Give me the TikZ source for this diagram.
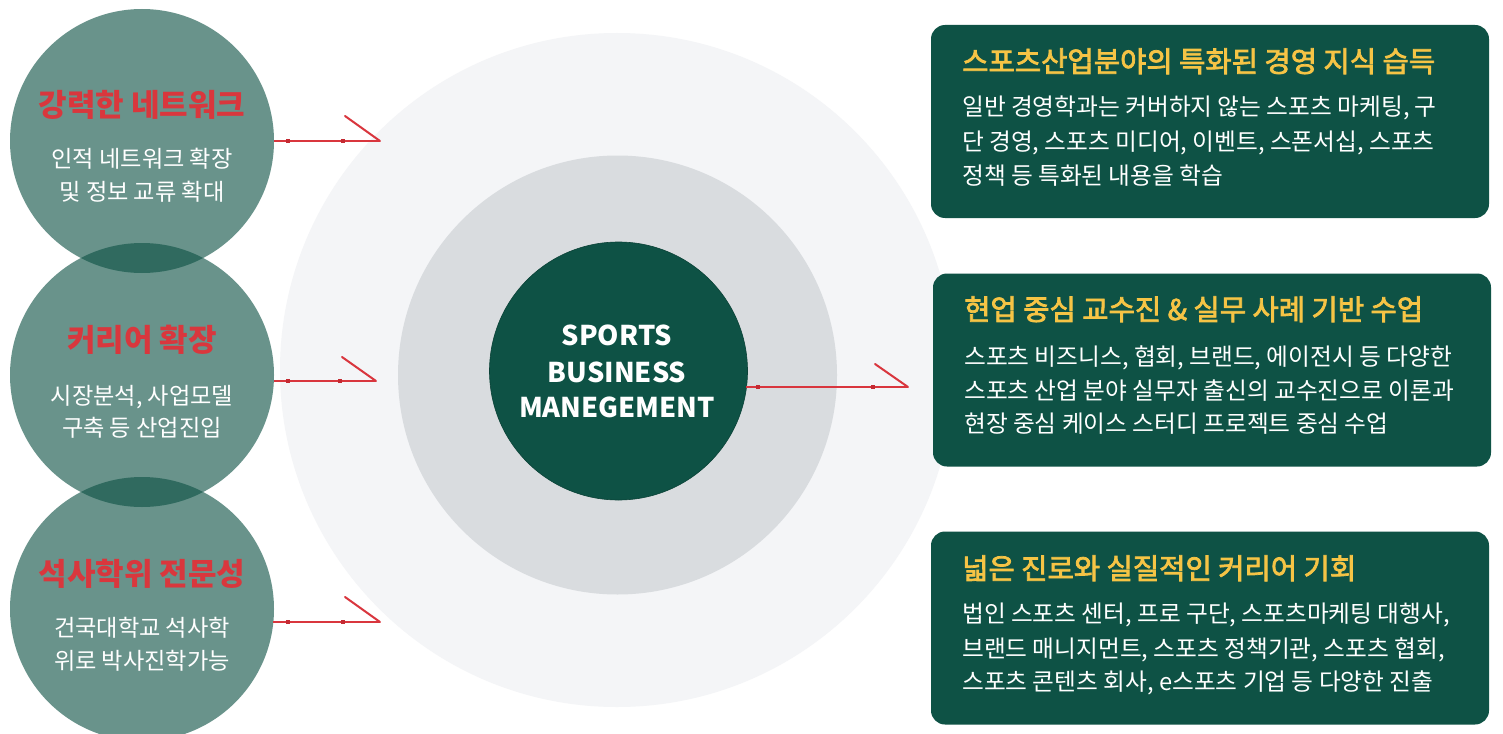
\documentclass[tikz,border=0pt]{standalone}
\usepackage{fontspec}
\setmainfont{Noto Sans CJK KR}
\newfontfamily\krmedium[FakeBold=2.6]{Noto Sans CJK KR}
\definecolor{dkgreen}{HTML}{0E5245}
\definecolor{ringout}{HTML}{F4F5F7}
\definecolor{ringmid}{HTML}{D9DCDF}
\definecolor{arrowred}{HTML}{D9363E}
\definecolor{handlered}{HTML}{C42A32}
\definecolor{titleyel}{HTML}{F6C445}
\definecolor{circred}{HTML}{D9373D}
\begin{document}
\begin{tikzpicture}[x=1pt,y=-1pt,
  lcirc/.style={circle,fill=dkgreen,fill opacity=0.62,minimum size=264pt,inner sep=0pt},
  ring/.style={circle,inner sep=0pt},
  core/.style={circle,fill=dkgreen,draw=dkgreen!80!black,line width=0.6pt,minimum size=258pt,inner sep=0pt},
  infobox/.style={rectangle,rounded corners=14pt,fill=dkgreen,minimum width=558pt,minimum height=193pt,inner sep=0pt},
  ctitle/.style={anchor=base,inner sep=0pt,text=circred,font=\fontsize{31}{36}\selectfont\bfseries},
  cbody/.style={anchor=base,inner sep=0pt,text=white,font=\fontsize{23.2}{30}\selectfont},
  btitle/.style={anchor=base west,inner sep=0pt,text=titleyel,font=\krmedium\fontsize{28.6}{34}\selectfont},
  bbody/.style={anchor=base west,inner sep=0pt,text=white,font=\fontsize{23.7}{30}\selectfont},
  coretext/.style={anchor=base,inner sep=0pt,text=white,font=\fontsize{27.2}{30}\selectfont\bfseries},
  redline/.style={draw=arrowred,line width=2pt},
  handle/.style={rectangle,fill=handlered,minimum width=4pt,minimum height=3.5pt,inner sep=0pt}
]
\useasboundingbox (0,0) rectangle (1503,733);
\clip (0,0) rectangle (1503,733);
\fill[white] (0,0) rectangle (1503,733);

% concentric rings
\node[ring,fill=ringout,minimum size=674pt] (outer) at (617,370) {};
\node[ring,fill=ringmid,minimum size=439pt] (mid) at (617.5,375) {};
\node[core] (core) at (618.5,371) {};
\node[coretext] (ct1) at (617,345) {SPORTS};
\node[coretext] (ct2) at (617,382) {BUSINESS};
\node[coretext] (ct3) at (617,417) {MANEGEMENT};

% left circles
\node[lcirc] (c1) at (142,141) {};
\node[lcirc] (c2) at (142,375) {};
\node[lcirc] (c3) at (142,609) {};

\node[ctitle] (c1t) at (142,117) {강력한 네트워크};
\node[cbody] (c1a) at (142,167) {인적 네트워크 확장};
\node[cbody] (c1b) at (142,200) {및 정보 교류 확대};

\node[ctitle] (c2t) at (142,351) {커리어 확장};
\node[cbody] (c2a) at (142,404) {시장분석, 사업모델};
\node[cbody] (c2b) at (142,436) {구축 등 산업진입};

\node[ctitle] (c3t) at (142,585) {석사학위 전문성};
\node[cbody] (c3a) at (142,636) {건국대학교 석사학};
\node[cbody] (c3b) at (142,669) {위로 박사진학가능};

% right boxes
\node[infobox] (b1) at (1210,121.5) {};
\node[infobox] (b2) at (1212,370) {};
\node[infobox] (b3) at (1210,628) {};

\node[btitle] (b1t) at (962,72) {스포츠산업분야의 특화된 경영 지식 습득};
\node[bbody] (b1a) at (962,116) {일반 경영학과는 커버하지 않는 스포츠 마케팅, 구};
\node[bbody] (b1b) at (962,150) {단 경영, 스포츠 미디어, 이벤트, 스폰서십, 스포츠};
\node[bbody] (b1c) at (962,184) {정책 등 특화된 내용을 학습};

\node[btitle] (b2t) at (964,320) {현업 중심 교수진 \& 실무 사례 기반 수업};
\node[bbody] (b2a) at (964,365) {스포츠 비즈니스, 협회, 브랜드, 에이전시 등 다양한};
\node[bbody] (b2b) at (964,399) {스포츠 산업 분야 실무자 출신의 교수진으로 이론과};
\node[bbody] (b2c) at (964,432) {현장 중심 케이스 스터디 프로젝트 중심 수업};

\node[btitle] (b3t) at (962,579) {넓은 진로와 실질적인 커리어 기회};
\node[bbody] (b3a) at (962,622) {법인 스포츠 센터, 프로 구단, 스포츠마케팅 대행사,};
\node[bbody] (b3b) at (962,657) {브랜드 매니지먼트, 스포츠 정책기관, 스포츠 협회,};
\node[bbody] (b3c) at (962,690) {스포츠 콘텐츠 회사, e스포츠 기업 등 다양한 진출};

% arrows
\coordinate (t1) at (380,141);
\coordinate (h1) at (345,116);
\coordinate (s2) at (274,381);
\coordinate (t2) at (376,381);
\coordinate (h2) at (342,357);
\coordinate (s3) at (273,622);
\coordinate (t3) at (380,622);
\coordinate (h3) at (345,597);
\coordinate (s4) at (746,387);
\coordinate (t4) at (908,387);
\coordinate (h4) at (875,364);

\draw[redline] (c1.east) -- (t1);
\draw[redline,line cap=round] (h1) -- (t1);
\draw[redline] (s2) -- (t2);
\draw[redline,line cap=round] (h2) -- (t2);
\draw[redline] (s3) -- (t3);
\draw[redline,line cap=round] (h3) -- (t3);
\draw[redline] (s4) -- (t4);
\draw[redline,line cap=round] (h4) -- (t4);

\node[handle] (k1a) at (288,141) {};
\node[handle] (k1b) at (343,141) {};
\node[handle] (k2a) at (288,381) {};
\node[handle] (k2b) at (340,381) {};
\node[handle] (k3a) at (288,622) {};
\node[handle] (k3b) at (343,622) {};
\node[handle] (k4a) at (758,387) {};
\node[handle] (k4b) at (873,387) {};
\end{tikzpicture}
\end{document}
